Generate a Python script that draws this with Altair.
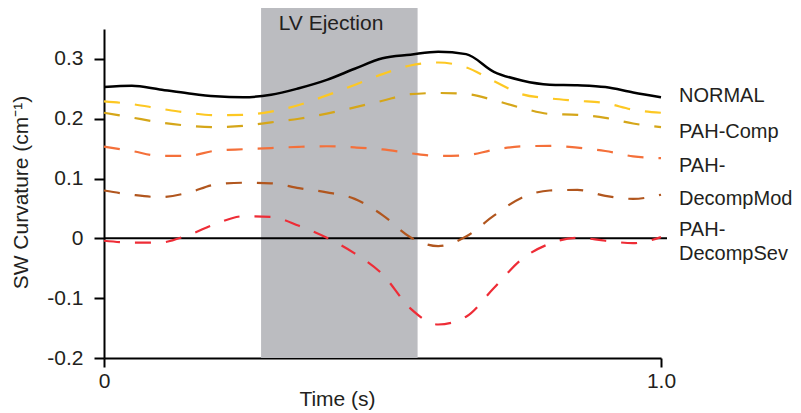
import altair as alt
import pandas as pd

# ---------------- data ----------------
time_s = [0.00, 0.05, 0.10, 0.15, 0.20, 0.25, 0.30, 0.35, 0.40, 0.45, 0.50,
          0.55, 0.60, 0.65, 0.70, 0.75, 0.80, 0.85, 0.90, 0.95, 1.00]

normal = [0.253, 0.255, 0.249, 0.2425, 0.2375, 0.236, 0.240, 0.251, 0.265, 0.2835, 0.301,
          0.307, 0.312, 0.308, 0.2785, 0.264, 0.257, 0.256, 0.253, 0.244, 0.236]
comp_a = [0.229, 0.2245, 0.217, 0.210, 0.206, 0.2065, 0.212, 0.223, 0.239, 0.2565, 0.2745,
          0.289, 0.294, 0.286, 0.263, 0.241, 0.234, 0.230, 0.226, 0.215, 0.210]
comp_b = [0.210, 0.202, 0.194, 0.1885, 0.186, 0.188, 0.194, 0.200, 0.2085, 0.219, 0.230,
          0.241, 0.243, 0.2415, 0.231, 0.218, 0.208, 0.2065, 0.2015, 0.192, 0.186]
decomp_mod_a = [0.1535, 0.146, 0.138, 0.138, 0.1465, 0.149, 0.151, 0.153, 0.154, 0.152, 0.1487,
                0.1423, 0.1377, 0.139, 0.148, 0.1538, 0.1546, 0.1516, 0.146, 0.137, 0.134]
decomp_mod_b = [0.080, 0.073, 0.069, 0.076, 0.090, 0.093, 0.092, 0.084, 0.077, 0.066, 0.039,
                0.002, -0.013, 0.003, 0.038, 0.068, 0.080, 0.081, 0.071, 0.066, 0.073]
decomp_sev = [-0.004, -0.007, -0.007, 0.005, 0.024, 0.037, 0.036, 0.021, 0.001, -0.025, -0.060,
              -0.117, -0.144, -0.131, -0.083, -0.035, -0.009, 0.001, -0.004, -0.008, 0.002]

series_names = ["NORMAL", "PAH-Comp a", "PAH-Comp b", "PAH-DecompMod a",
                "PAH-DecompMod b", "PAH-DecompSev"]
series_values = [normal, comp_a, comp_b, decomp_mod_a, decomp_mod_b, decomp_sev]
series_colors = ["#000000", "#FDC823", "#D5A619", "#F4703A", "#B1561E", "#EE2C36"]

ejection_start = [0.282]
ejection_end = [0.563]
ejection_label = ["LV Ejection"]

legend_lines = ["NORMAL", "PAH-Comp", "PAH-", "DecompMod", "PAH-", "DecompSev"]

y_ticks = [-0.2, -0.1, 0.0, 0.1, 0.2, 0.3]
x_ticks = [0.0, 1.0]

# ---------------- build tables ----------------
rows = []
for name, vals in zip(series_names, series_values):
    for t, v in zip(time_s, vals):
        rows.append({"time": t, "curv": v, "series": name})
df = pd.DataFrame(rows)
shade_df = pd.DataFrame({"start": ejection_start, "end": ejection_end})
zero_df = pd.DataFrame({"level": [0.0]})

# ---------------- style ----------------
FONT = "Liberation Sans"
TXT = "#231f20"
FS = 21
W, H = 557, 329

x_scale = alt.Scale(domain=[0, 1], nice=False)
y_scale = alt.Scale(domain=[-0.2, 0.35], nice=False, zero=False)

x_axis = alt.Axis(
    values=x_ticks, labelExpr="datum.value == 0 ? '0' : '1.0'",
    title="Time (s)", grid=False, labelFlush=False,
    domainColor="black", domainWidth=2, tickColor="black", tickWidth=2, tickSize=9,
    labelFont=FONT, labelFontSize=FS, labelColor=TXT, labelPadding=3,
    titleFont=FONT, titleFontSize=FS, titleFontWeight="normal", titleColor=TXT,
    titleX=233, titleY=47, titleBaseline="alphabetic", titleAlign="center",
)
y_axis = alt.Axis(
    values=y_ticks,
    labelExpr="datum.value == 0 ? '0' : (datum.value < 0 ? '-' + format(-datum.value, '.1f') : format(datum.value, '.1f'))",
    title="SW Curvature (cm\u207b\u00b9)", grid=False, labelFlush=False,
    domainColor="black", domainWidth=2, tickColor="black", tickWidth=2, tickSize=10,
    labelFont=FONT, labelFontSize=FS, labelColor=TXT, labelPadding=11,
    titleFont=FONT, titleFontSize=FS, titleFontWeight="normal", titleColor=TXT,
    titleAngle=270, titleX=-77, titleY=163, titleBaseline="alphabetic", titleAlign="center",
)

shade = alt.Chart(shade_df).mark_rect(color="#BBBCC0").encode(
    x=alt.X("start:Q", scale=x_scale, axis=x_axis),
    x2="end:Q",
    y=alt.value(-21),
    y2=alt.value(H),
)

zero_line = alt.Chart(zero_df).mark_rule(color="black", strokeWidth=2).encode(
    y=alt.Y("level:Q", scale=y_scale, axis=y_axis),
    x=alt.value(0),
    x2=alt.value(W + 6),
)

base = alt.Chart(df).encode(
    x=alt.X("time:Q", scale=x_scale, axis=x_axis),
    y=alt.Y("curv:Q", scale=y_scale, axis=y_axis),
)

dashed = base.transform_filter(alt.datum.series != "NORMAL").mark_line(
    strokeWidth=2.2, strokeDash=[16, 15], interpolate="monotone"
).encode(
    color=alt.Color("series:N", scale=alt.Scale(domain=series_names, range=series_colors), legend=None),
    detail="series:N",
)

solid = base.transform_filter(alt.datum.series == "NORMAL").mark_line(
    strokeWidth=2.5, color="black", interpolate="monotone"
)

phase_text = alt.Chart(pd.DataFrame({"label": ejection_label})).mark_text(
    font=FONT, fontSize=FS, color=TXT, align="center", baseline="middle"
).encode(text="label:N", x=alt.value(227), y=alt.value(-5))

label_y = [67, 103, 137, 170, 201, 225]
label_layers = []
for txt, py in zip(legend_lines, label_y):
    label_layers.append(
        alt.Chart(pd.DataFrame({"label": [txt]})).mark_text(
            font=FONT, fontSize=20, color=TXT, align="left", baseline="middle"
        ).encode(text="label:N", x=alt.value(575), y=alt.value(py))
    )

chart = alt.layer(shade, zero_line, dashed, solid, phase_text, *label_layers).properties(
    width=W, height=H,
    padding={"left": 96, "top": 21, "right": 132, "bottom": 52},
    autosize=alt.AutoSizeParams(type="none"),
).configure_view(stroke=None)

chart.save("out.html", embed_options={"renderer": "svg", "actions": False})
